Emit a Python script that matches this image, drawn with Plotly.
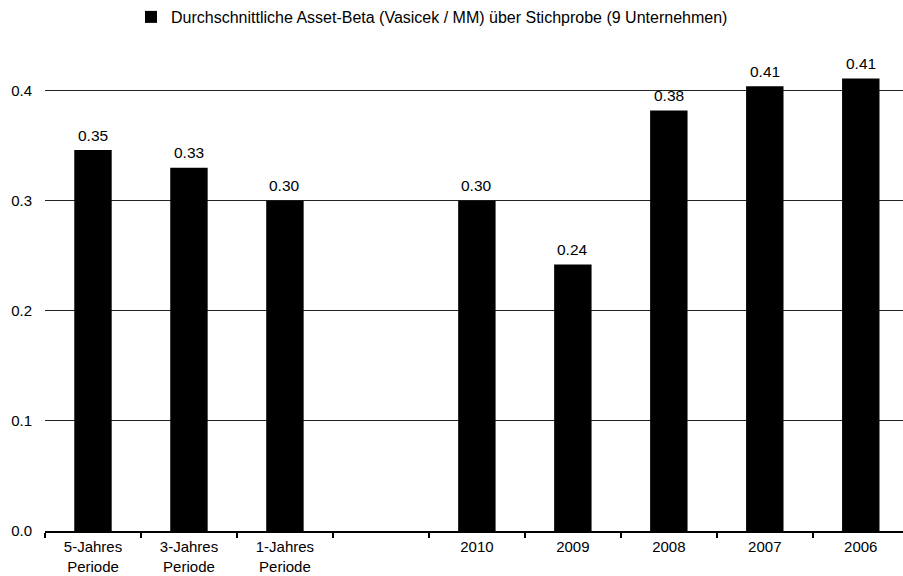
import plotly.graph_objects as go

categories = ["5-Jahres<br>Periode", "3-Jahres<br>Periode", "1-Jahres<br>Periode", " ",
              "2010", "2009", "2008", "2007", "2006"]
values = [0.346, 0.330, 0.300, None, 0.300, 0.242, 0.382, 0.404, 0.411]
labels = ["0.35", "0.33", "0.30", "", "0.30", "0.24", "0.38", "0.41", "0.41"]
series_name = "Durchschnittliche Asset-Beta (Vasicek / MM) über Stichprobe (9 Unternehmen)"

font = "Liberation Sans, Arial, sans-serif"

fig = go.Figure(go.Bar(
    x=categories, y=values, name=series_name,
    marker=dict(color="black", line=dict(width=0)),
    width=0.39,
    showlegend=True,
))

for i, (v, t) in enumerate(zip(values, labels)):
    if v is None:
        continue
    fig.add_annotation(x=i, y=v, text=t, showarrow=False, yanchor="middle", yshift=15,
                       font=dict(family=font, size=15.5, color="black"))

fig.update_layout(
    width=903, height=576,
    margin=dict(l=45, r=0, t=40, b=45),
    paper_bgcolor="white", plot_bgcolor="white",
    font=dict(family=font, size=15, color="black"),
    showlegend=True,
    legend=dict(orientation="h", xref="container", yref="container",
                x=131 / 903, xanchor="left", y=1, yanchor="top",
                font=dict(family=font, size=16, color="black"),
                itemwidth=30, bgcolor="rgba(0,0,0,0)"),
)

fig.update_xaxes(
    type="category", range=[-0.5, 8.44], automargin=False,
    showline=True, linecolor="black", linewidth=2,
    ticks="outside", tickson="boundaries", ticklen=5, tickwidth=2, tickcolor="black",
    showgrid=False, ticklabelstandoff=1, tickfont=dict(family=font, size=15),
)
fig.update_yaxes(
    range=[0, 0.446], tickvals=[0, 0.1, 0.2, 0.3, 0.4], tickformat=".1f", automargin=False,
    showgrid=True, gridcolor="#222222", gridwidth=1, zeroline=False,
    showline=False, ticks="", ticklabelstandoff=12, tickfont=dict(family=font, size=15),
)

fig.write_html("out.html")
